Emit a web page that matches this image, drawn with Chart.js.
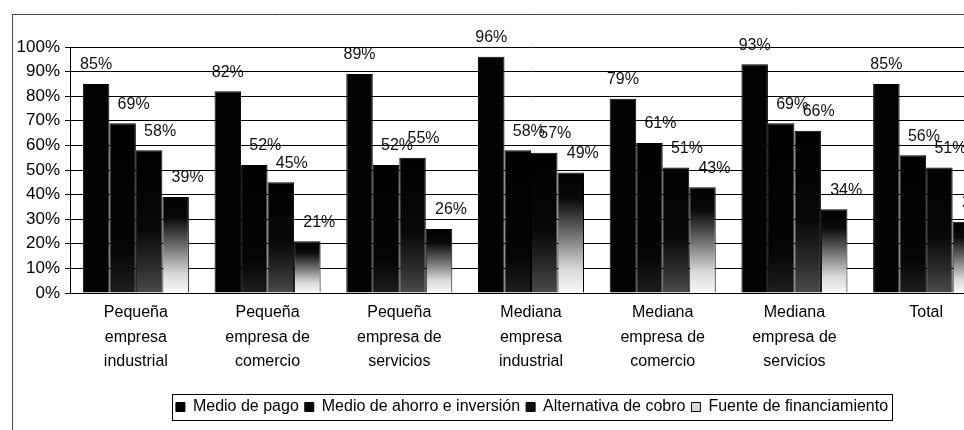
<!DOCTYPE html>
<html>
<head>
<meta charset="utf-8">
<script src="https://cdn.jsdelivr.net/npm/chart.js@4.4.0/dist/chart.umd.min.js"></script>
<style>
	html, body { margin: 0; padding: 0; background: #fff; overflow: hidden; width: 964px; height: 430px; }
	#wrap { width: 1052px; height: 430px; }
</style>
</head>
<body>
<div id="wrap"><canvas id="grafico" width="1052" height="430"></canvas></div>
<script>
const categorias = [
	["Pequeña", "empresa", "industrial"],
	["Pequeña", "empresa de", "comercio"],
	["Pequeña", "empresa de", "servicios"],
	["Mediana", "empresa", "industrial"],
	["Mediana", "empresa de", "comercio"],
	["Mediana", "empresa de", "servicios"],
	"Total"
]
const series = [
	"Medio de pago",
	"Medio de ahorro e inversión",
	"Alternativa de cobro",
	"Fuente de financiamiento"
]
const medio_pago = [85, 82, 89, 96, 79, 93, 85]
const ahorro_inversion = [69, 52, 52, 58, 61, 69, 56]
const alternativa_cobro = [58, 45, 55, 57, 51, 66, 51]
const fuente_financiamiento = [39, 21, 26, 49, 43, 34, 29]

const fuente = '"Liberation Sans", Arial, sans-serif'

// degradado vertical dentro de cada barra
const degradado = (paradas) => (c) => {
	const chart = c.chart
	if (!chart.chartArea || c.type !== 'data' || !chart.scales.y) return '#000'
	const top = chart.scales.y.getPixelForValue(c.raw)
	const bottom = chart.scales.y.getPixelForValue(0)
	if (bottom - top < 1) return '#000'
	const g = chart.ctx.createLinearGradient(0, top, 0, bottom)
	paradas.forEach(p => g.addColorStop(p[0], p[1]))
	return g
}

const colores_leyenda = ['#000', '#000', '#111', '#d8d8d8']
const desplaza = [0, 11, 11, 12]

const etiquetas = {
	id: 'etiquetas',
	afterDatasetsDraw(chart) {
		const ctx = chart.ctx
		ctx.save()
		ctx.font = '16px ' + fuente
		ctx.fillStyle = '#111'
		ctx.textAlign = 'center'
		ctx.textBaseline = 'middle'
		chart.data.datasets.forEach((ds, i) => {
			chart.getDatasetMeta(i).data.forEach((bar, j) => {
				ctx.fillText(ds.data[j] + '%', bar.x + desplaza[i], bar.y - 19)
			})
		})
		ctx.restore()
	}
}

const marco = {
	id: 'marco',
	beforeDraw(chart) {
		const ctx = chart.ctx
		ctx.save()
		ctx.fillStyle = '#fff'
		ctx.fillRect(0, 0, chart.width, chart.height)
		ctx.strokeStyle = '#444'
		ctx.lineWidth = 1
		ctx.beginPath()
		ctx.moveTo(12.5, chart.height)
		ctx.lineTo(12.5, 14.5)
		ctx.lineTo(chart.width, 14.5)
		ctx.stroke()
		ctx.restore()
	},
	afterDraw(chart) {
		const cajas = chart.legend.legendHitBoxes
		if (!cajas || !cajas.length) return
		const izq = Math.min(...cajas.map(b => b.left)) - 4
		const der = Math.max(...cajas.map(b => b.left + b.width)) + 4
		const arr = Math.min(...cajas.map(b => b.top)) - 5
		const aba = Math.max(...cajas.map(b => b.top + b.height)) + 5
		const ctx = chart.ctx
		ctx.save()
		ctx.strokeStyle = '#000'
		ctx.lineWidth = 1
		ctx.strokeRect(Math.round(izq) + 0.5, Math.round(arr) + 0.5, Math.round(der - izq), Math.round(aba - arr))
		ctx.restore()
	}
}

const data = {
	labels: categorias,
	datasets: [
		{
			label: series[0],
			data: medio_pago,
			backgroundColor: '#030303'
		},
		{
			label: series[1],
			data: ahorro_inversion,
			backgroundColor: degradado([[0, '#000'], [0.75, '#050505'], [1, '#1e1e1e']])
		},
		{
			label: series[2],
			data: alternativa_cobro,
			backgroundColor: degradado([[0, '#000'], [0.55, '#080808'], [0.8, '#2a2a2a'], [1, '#4a4a4a']])
		},
		{
			label: series[3],
			data: fuente_financiamiento,
			backgroundColor: degradado([[0, '#000'], [0.22, '#0a0a0a'], [0.5, '#6a6a6a'], [0.8, '#d8d8d8'], [1, '#f8f8f8']])
		}
	]
}

const grafico = new Chart(document.getElementById('grafico').getContext('2d'), {
	type: 'bar',
	data: data,
	plugins: [marco, etiquetas],
	options: {
		responsive: false,
		animation: false,
		layout: { padding: { top: 47, left: 12, right: 0, bottom: 5 } },
		datasets: {
			bar: {
				categoryPercentage: 0.805,
				barPercentage: 1,
				borderColor: '#000',
				borderWidth: 1
			}
		},
		plugins: {
			tooltip: { enabled: false },
			legend: {
				position: 'bottom',
				labels: {
					color: '#000',
					font: { size: 16, family: fuente },
					boxWidth: 9,
					boxHeight: 9,
					padding: 6,
					generateLabels: () => series.map((s, i) => ({
						text: s,
						fillStyle: colores_leyenda[i],
						strokeStyle: '#000',
						lineWidth: 1,
						datasetIndex: i,
						hidden: false
					}))
				}
			}
		},
		scales: {
			x: {
				grid: { display: false, drawTicks: false },
				border: { display: true, color: '#000', width: 1 },
				ticks: {
					color: '#000',
					font: { size: 16, family: fuente, lineHeight: 1.55 },
					maxRotation: 0,
					autoSkip: false,
					padding: 7
				},
				afterFit: s => { s.height = 100 }
			},
			y: {
				min: 0,
				max: 100,
				ticks: {
					stepSize: 10,
					callback: v => v + '%',
					color: '#000',
					font: { size: 17, family: fuente },
					padding: 5
				},
				grid: { color: '#000', lineWidth: 1, tickLength: 5 },
				border: { color: '#000', width: 1 },
				afterFit: s => { s.width = 58 }
			},
			y2: {
				position: 'right',
				grid: { display: false },
				ticks: { display: false },
				border: { display: false },
				afterFit: s => { s.width = 60 }
			}
		}
	}
})
</script>
</body>
</html>
